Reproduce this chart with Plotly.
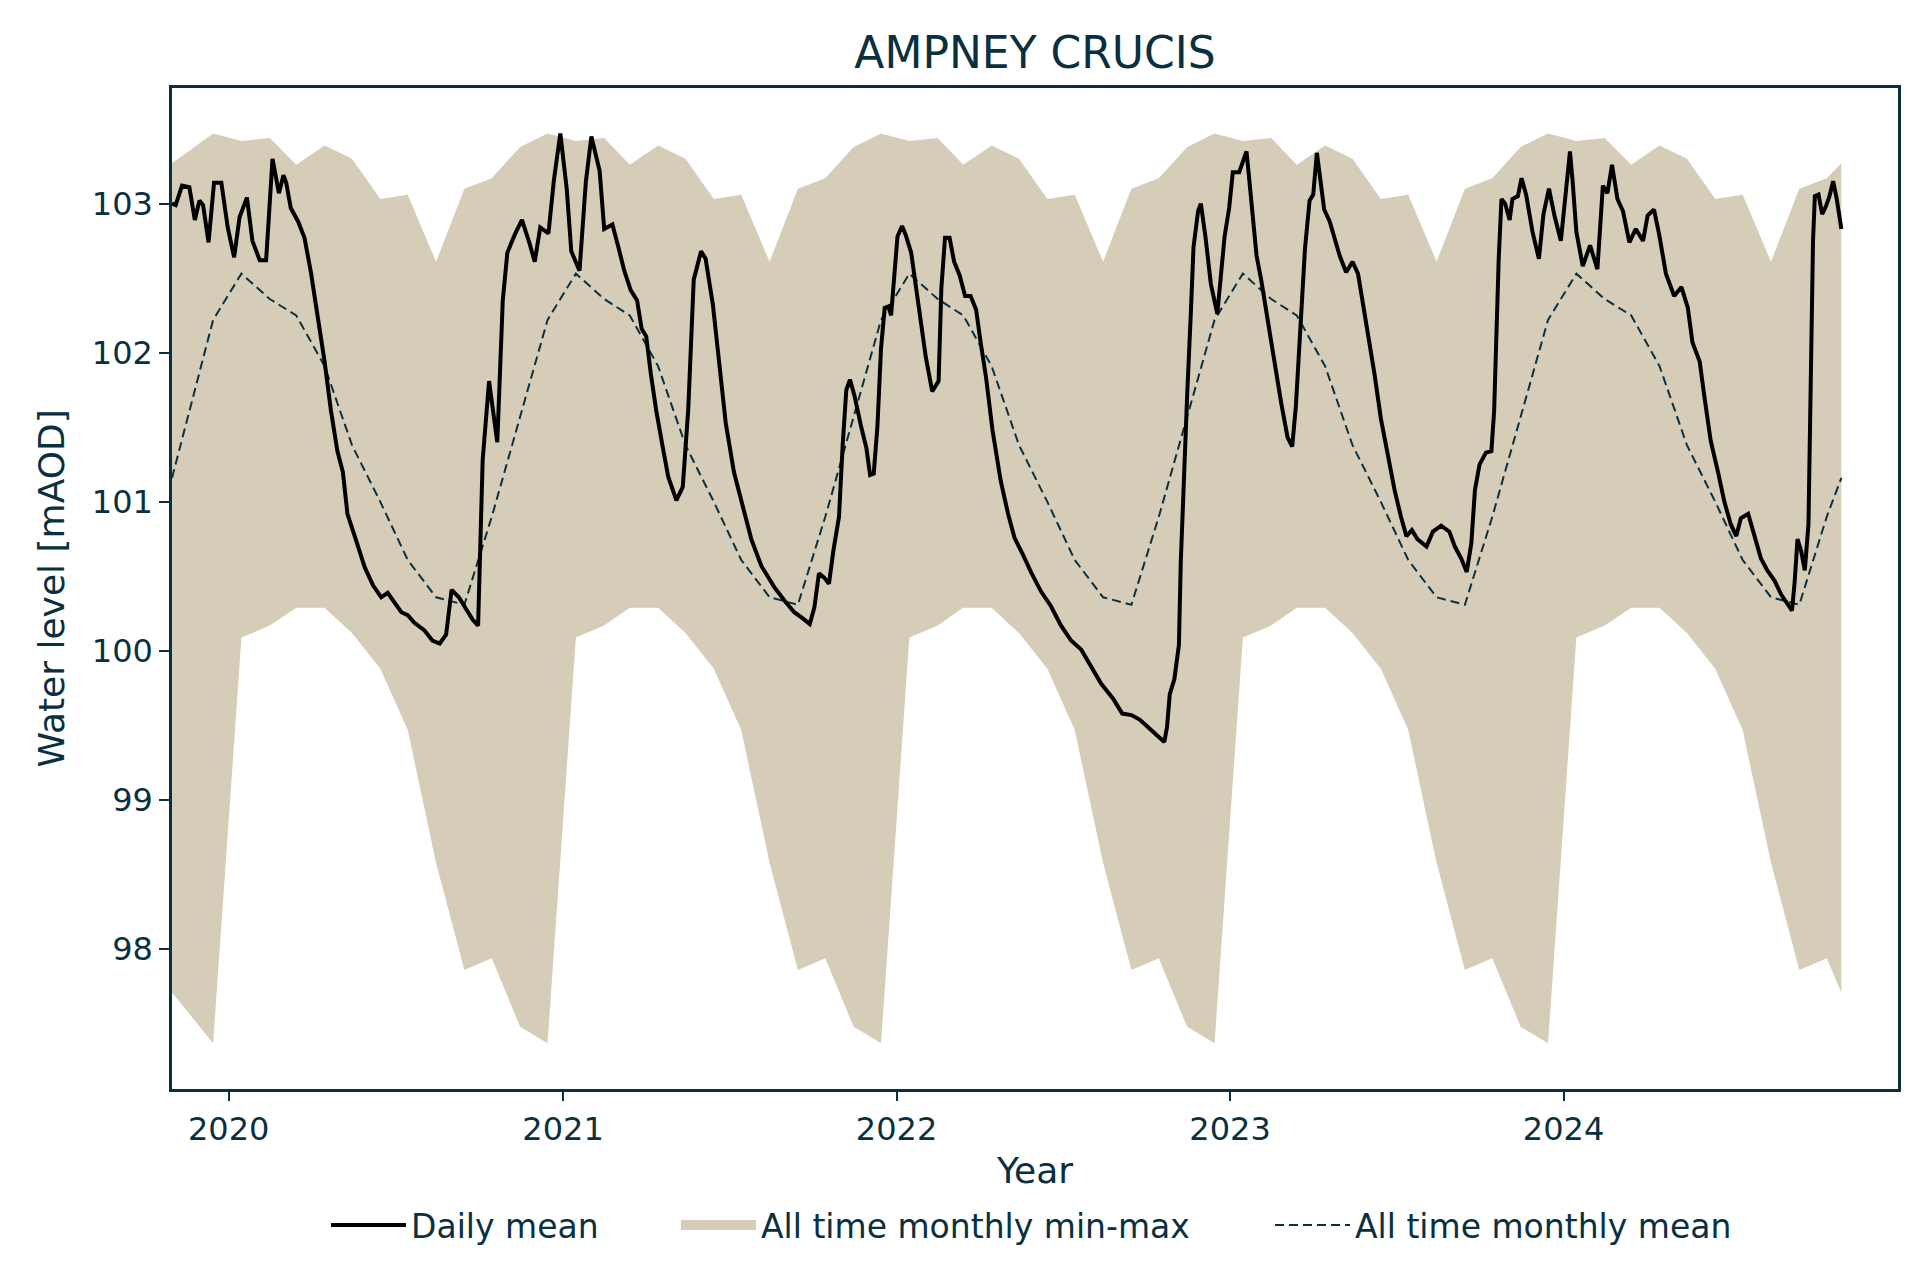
import pandas as pd
import plotly.graph_objects as go

# ---------------- data ----------------
daily_dates = [
    "2019-10-31", "2019-11-04", "2019-11-11", "2019-11-19", "2019-11-25", "2019-11-30",
    "2019-12-04", "2019-12-10", "2019-12-16", "2019-12-24", "2019-12-31",
    "2020-01-07", "2020-01-13", "2020-01-21", "2020-01-27", "2020-02-04", "2020-02-11",
    "2020-02-18", "2020-02-25", "2020-03-01", "2020-03-04", "2020-03-09", "2020-03-17",
    "2020-03-24", "2020-03-31", "2020-04-07", "2020-04-15", "2020-04-22", "2020-04-29",
    "2020-05-05", "2020-05-10", "2020-05-19", "2020-05-29", "2020-06-07", "2020-06-16",
    "2020-06-23", "2020-06-30", "2020-07-08", "2020-07-15", "2020-07-22", "2020-08-02",
    "2020-08-11", "2020-08-19", "2020-08-26", "2020-09-01", "2020-09-09", "2020-09-17",
    "2020-09-24", "2020-09-30", "2020-10-05", "2020-10-12", "2020-10-21", "2020-10-27",
    "2020-11-01", "2020-11-09", "2020-11-17", "2020-11-25", "2020-12-01", "2020-12-07",
    "2020-12-16", "2020-12-22", "2020-12-29",
    "2021-01-05", "2021-01-10", "2021-01-19", "2021-01-26", "2021-02-01", "2021-02-10",
    "2021-02-15", "2021-02-24", "2021-03-02", "2021-03-09", "2021-03-16", "2021-03-23",
    "2021-03-28", "2021-04-02", "2021-04-07", "2021-04-13", "2021-04-20", "2021-04-26",
    "2021-05-05", "2021-05-12", "2021-05-18", "2021-05-24", "2021-06-01", "2021-06-06",
    "2021-06-14", "2021-06-21", "2021-06-28", "2021-07-07", "2021-07-17", "2021-07-26",
    "2021-08-06", "2021-08-20", "2021-08-31", "2021-09-11", "2021-09-20", "2021-09-28",
    "2021-10-03", "2021-10-08", "2021-10-14", "2021-10-19", "2021-10-24", "2021-10-30",
    "2021-11-03", "2021-11-07", "2021-11-11", "2021-11-16", "2021-11-23", "2021-11-29",
    "2021-12-03", "2021-12-07", "2021-12-11", "2021-12-15", "2021-12-19", "2021-12-23",
    "2021-12-26", "2021-12-29",
    "2022-01-02", "2022-01-07", "2022-01-11", "2022-01-17", "2022-01-22", "2022-01-28",
    "2022-02-02", "2022-02-09", "2022-02-16", "2022-02-19", "2022-02-23", "2022-02-28",
    "2022-03-05", "2022-03-11", "2022-03-17", "2022-03-23", "2022-03-29", "2022-04-03",
    "2022-04-09", "2022-04-16", "2022-04-25", "2022-05-03", "2022-05-10", "2022-05-19",
    "2022-05-28", "2022-06-08", "2022-06-19", "2022-06-30", "2022-07-11", "2022-07-22",
    "2022-08-02", "2022-08-13", "2022-08-26", "2022-09-05", "2022-09-15", "2022-09-24",
    "2022-10-03", "2022-10-10", "2022-10-16", "2022-10-21", "2022-10-24", "2022-10-27",
    "2022-11-01", "2022-11-06", "2022-11-08", "2022-11-11", "2022-11-15", "2022-11-19",
    "2022-11-22", "2022-11-27", "2022-11-30", "2022-12-05", "2022-12-11", "2022-12-18",
    "2022-12-22", "2022-12-26", "2022-12-31",
    "2023-01-04", "2023-01-11", "2023-01-15", "2023-01-19", "2023-01-22", "2023-01-26",
    "2023-01-30", "2023-02-04", "2023-02-11", "2023-02-19", "2023-02-26", "2023-03-05",
    "2023-03-10", "2023-03-14", "2023-03-19", "2023-03-24", "2023-03-29", "2023-04-02",
    "2023-04-06", "2023-04-10", "2023-04-14", "2023-04-20", "2023-04-25", "2023-05-01",
    "2023-05-08", "2023-05-15", "2023-05-21", "2023-05-26", "2023-06-01", "2023-06-08",
    "2023-06-15", "2023-06-23", "2023-06-30", "2023-07-07", "2023-07-13", "2023-07-19",
    "2023-07-25", "2023-08-04", "2023-08-11", "2023-08-20", "2023-08-29", "2023-09-04",
    "2023-09-11", "2023-09-17", "2023-09-22", "2023-09-26", "2023-10-01", "2023-10-08",
    "2023-10-14", "2023-10-17", "2023-10-19", "2023-10-22", "2023-10-25", "2023-10-29",
    "2023-11-03", "2023-11-06", "2023-11-12", "2023-11-16", "2023-11-21", "2023-11-28",
    "2023-12-05", "2023-12-10", "2023-12-16", "2023-12-22", "2023-12-29",
    "2024-01-03", "2024-01-08", "2024-01-11", "2024-01-15", "2024-01-22", "2024-01-30",
    "2024-02-07", "2024-02-13", "2024-02-18", "2024-02-23", "2024-02-29", "2024-03-06",
    "2024-03-13", "2024-03-20", "2024-03-28", "2024-04-02", "2024-04-09", "2024-04-15",
    "2024-04-22", "2024-05-01", "2024-05-09", "2024-05-16", "2024-05-21", "2024-05-29",
    "2024-06-03", "2024-06-10", "2024-06-18", "2024-06-25", "2024-07-02", "2024-07-08",
    "2024-07-13", "2024-07-21", "2024-07-28", "2024-08-04", "2024-08-11", "2024-08-19",
    "2024-08-26", "2024-09-02", "2024-09-07", "2024-09-10", "2024-09-13", "2024-09-17",
    "2024-09-21", "2024-09-25", "2024-09-27", "2024-09-30", "2024-10-02", "2024-10-06",
    "2024-10-10", "2024-10-14", "2024-10-18", "2024-10-22", "2024-10-26", "2024-10-31",
]
daily_level = [
    103.00, 102.99, 103.12, 103.11, 102.89, 103.02,
    102.99, 102.74, 103.14, 103.14, 102.84,
    102.64, 102.91, 103.04, 102.75, 102.62, 102.62,
    103.30, 103.07, 103.19, 103.14, 102.97, 102.88,
    102.77, 102.54, 102.26, 101.94, 101.61, 101.34,
    101.20, 100.92, 100.75, 100.56, 100.44, 100.36,
    100.39, 100.33, 100.26, 100.24, 100.19, 100.14,
    100.07, 100.05, 100.11, 100.41, 100.36, 100.28,
    100.21, 100.17, 101.28, 101.81, 101.40, 102.35,
    102.67, 102.79, 102.89, 102.74, 102.61, 102.84,
    102.80, 103.16, 103.47,
    103.10, 102.68, 102.55, 103.15, 103.45, 103.22,
    102.83, 102.86, 102.72, 102.55, 102.42, 102.35,
    102.16, 102.11, 101.86, 101.61, 101.37, 101.17,
    101.01, 101.10, 101.62, 102.49, 102.68, 102.63,
    102.32, 101.92, 101.53, 101.20, 100.95, 100.75,
    100.57, 100.43, 100.34, 100.26, 100.22, 100.18,
    100.29, 100.52, 100.49, 100.45, 100.68, 100.90,
    101.38, 101.75, 101.82, 101.71, 101.51, 101.36,
    101.18, 101.19, 101.50, 102.03, 102.30, 102.31,
    102.25, 102.49,
    102.78, 102.85, 102.79, 102.67, 102.46, 102.20,
    101.97, 101.74, 101.81, 102.43, 102.77, 102.77,
    102.61, 102.52, 102.38, 102.38, 102.29, 102.07,
    101.83, 101.48, 101.14, 100.92, 100.76, 100.65,
    100.53, 100.40, 100.30, 100.17, 100.07, 100.01,
    99.90, 99.78, 99.68, 99.58, 99.57, 99.54,
    99.49, 99.45, 99.41, 99.39, 99.49, 99.71,
    99.81, 100.04, 100.59, 101.14, 101.71, 102.26,
    102.71, 102.95, 103.00, 102.78, 102.46, 102.26,
    102.53, 102.78, 102.97,
    103.21, 103.21, 103.28, 103.35, 103.16, 102.88,
    102.65, 102.49, 102.22, 101.94, 101.66, 101.43,
    101.37, 101.64, 102.22, 102.70, 103.02, 103.06,
    103.34, 103.16, 102.96, 102.88, 102.77, 102.65,
    102.54, 102.61, 102.53, 102.34, 102.15, 101.86,
    101.56, 101.31, 101.08, 100.90, 100.77, 100.81,
    100.75, 100.70, 100.80, 100.84, 100.80, 100.70,
    100.62, 100.53, 100.72, 101.08, 101.25, 101.33,
    101.34, 101.61, 102.12, 102.63, 103.03, 103.00,
    102.89, 103.03, 103.05, 103.17, 103.06, 102.81,
    102.63, 102.93, 103.10, 102.92, 102.75,
    103.03, 103.35, 103.14, 102.81, 102.58, 102.72,
    102.56, 103.12, 103.07, 103.26, 103.03, 102.95,
    102.74, 102.83, 102.75, 102.92, 102.96, 102.78,
    102.53, 102.38, 102.44, 102.30, 102.07, 101.94,
    101.71, 101.41, 101.20, 101.00, 100.85, 100.77,
    100.89, 100.92, 100.77, 100.62, 100.54, 100.47,
    100.38, 100.31, 100.27, 100.47, 100.75, 100.67,
    100.54, 100.85, 101.81, 102.75, 103.05, 103.06,
    102.93, 102.98, 103.05, 103.15, 103.03, 102.83,
]

# all-time monthly statistics, calendar months Jan..Dec
month_numbers = [1, 2, 3, 4, 5, 6, 7, 8, 9, 10, 11, 12]
monthly_max = [103.42, 103.44, 103.26, 103.39, 103.30, 103.03,
               103.06, 102.61, 103.10, 103.17, 103.38, 103.47]
monthly_min = [100.09, 100.17, 100.29, 100.29, 100.12, 99.88,
               99.47, 98.58, 97.86, 97.94, 97.48, 97.37]
monthly_mean = [102.53, 102.36, 102.25, 101.91, 101.38, 101.00,
                100.61, 100.36, 100.31, 100.90, 101.57, 102.22]

# values of the monthly curves at the first / last day of the daily record
edge_max = 103.27
edge_min = 97.71
edge_mean = 101.16

year_ticks = ["2020-01-01", "2021-01-01", "2022-01-01", "2023-01-01", "2024-01-01"]
year_labels = ["2020", "2021", "2022", "2023", "2024"]
level_ticks = [98, 99, 100, 101, 102, 103]

# ---------------- build monthly curves on the daily record span ----------------
start, end = daily_dates[0], daily_dates[-1]
mid_months = pd.date_range("2019-11-15", "2024-10-15", freq="MS") + pd.Timedelta(days=14)
band_x = [pd.Timestamp(start)] + list(mid_months) + [pd.Timestamp(end)]
lut_max = dict(zip(month_numbers, monthly_max))
lut_min = dict(zip(month_numbers, monthly_min))
lut_mean = dict(zip(month_numbers, monthly_mean))
band_hi = [edge_max] + [lut_max[d.month] for d in mid_months] + [edge_max]
band_lo = [edge_min] + [lut_min[d.month] for d in mid_months] + [edge_min]
band_mean = [edge_mean] + [lut_mean[d.month] for d in mid_months] + [edge_mean]

NAVY = "#0a3040"
BEIGE = "#d5cdb8"
FONT = "DejaVu Sans"

fig = go.Figure()
fig.add_trace(go.Scatter(x=band_x, y=band_lo, mode="lines", line=dict(width=0),
                         showlegend=False, hoverinfo="skip"))
fig.add_trace(go.Scatter(x=band_x, y=band_hi, mode="lines", line=dict(width=0),
                         fill="tonexty", fillcolor=BEIGE, showlegend=False,
                         name="All time monthly min-max"))
# legend-only entry drawn as a wide patch for the min-max band
fig.add_trace(go.Scatter(x=[None], y=[None], mode="lines",
                         line=dict(color=BEIGE, width=23),
                         name="All time monthly min-max", legend="legend2"))
fig.add_trace(go.Scatter(x=band_x, y=band_mean, mode="lines",
                         line=dict(color=NAVY, width=2, dash="9px,5px"),
                         name="All time monthly mean", legend="legend3"))
fig.add_trace(go.Scatter(x=pd.to_datetime(daily_dates), y=daily_level, mode="lines",
                         line=dict(color="black", width=4),
                         name="Daily mean", legend="legend"))

axis_common = dict(showline=True, linecolor=NAVY, linewidth=2.5, mirror=True,
                   ticks="outside", ticklen=10, tickwidth=2, tickcolor=NAVY,
                   showgrid=False, zeroline=False,
                   tickfont=dict(family=FONT, size=32, color=NAVY))

fig.update_layout(
    width=1920, height=1280,
    paper_bgcolor="white", plot_bgcolor="white",
    margin=dict(l=164, r=30, t=80, b=191),
    font=dict(family=FONT, color=NAVY),
    title=dict(text="AMPNEY CRUCIS", x=0.5, xref="paper", xanchor="center",
               y=1 - 45 / 1280, yref="container", yanchor="middle",
               font=dict(family=FONT, size=44, color=NAVY)),
    xaxis=dict(type="date", range=["2019-10-31", "2025-01-01"],
               tickvals=year_ticks, ticktext=year_labels,
               title=dict(text="Year", font=dict(family=FONT, size=36, color=NAVY), standoff=12),
               **axis_common),
    yaxis=dict(range=[97.065, 103.775], tickvals=level_ticks,
               ticktext=[str(v) for v in level_ticks],
               title=dict(text="Water level [mAOD]", font=dict(family=FONT, size=36, color=NAVY),
                          standoff=17),
               **axis_common),
)
leg_common = dict(orientation="h", xref="container", yref="container", yanchor="middle",
                  y=1 - 1217 / 1280, bgcolor="rgba(0,0,0,0)", itemwidth=75,
                  font=dict(family=FONT, size=33, color=NAVY))
fig.update_layout(
    legend=dict(x=318 / 1920, xanchor="left", **leg_common),
    legend2=dict(x=668 / 1920, xanchor="left", **leg_common),
    legend3=dict(x=1262 / 1920, xanchor="left", **leg_common),
)

fig.write_html("out.html")
